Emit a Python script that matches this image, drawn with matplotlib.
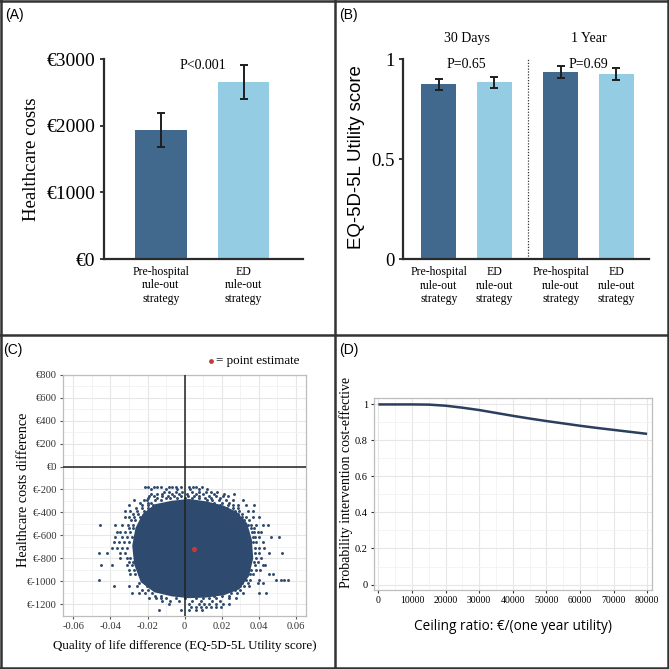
import matplotlib
matplotlib.use("Agg")
import matplotlib.pyplot as plt
from matplotlib.lines import Line2D
from matplotlib.ticker import MultipleLocator

SERIF = ["Liberation Serif", "DejaVu Serif"]
SANS = ["Liberation Sans", "DejaVu Sans"]
plt.rcParams['font.family'] = SERIF

# ---------------- data ----------------
# Panel A
a_categories = ["Pre-hospital\nrule-out\nstrategy", "ED\nrule-out\nstrategy"]
a_costs = [1935, 2655]
a_err = [250, 252]
a_pval = "P<0.001"
a_yticks = [0, 1000, 2000, 3000]

# Panel B
b_categories = ["Pre-hospital\nrule-out\nstrategy", "ED\nrule-out\nstrategy",
                "Pre-hospital\nrule-out\nstrategy", "ED\nrule-out\nstrategy"]
b_positions = [0, 1, 2.2, 3.2]
b_utility = [0.874, 0.883, 0.935, 0.925]
b_err = [0.028, 0.027, 0.029, 0.029]
b_groups = ["30 Days", "1 Year"]
b_pvals = ["P=0.65", "P=0.69"]
b_yticks = [0, 0.5, 1]
b_yticklabels = ["0", "0.5", "1"]

# Panel C: bootstrap cloud (dense core outline + scattered points read row by row)
c_core_x = [-0.0157, -0.0067, 0.0023, 0.0113, 0.0204, 0.0276, 0.0330, 0.0355, 0.0362,
            0.0340, 0.0290, 0.0210, 0.0113, 0.0023, -0.0067, -0.0160, -0.0230, -0.0265,
            -0.0275, -0.0258, -0.0220]
c_core_y = [-340, -310, -295, -315, -350, -405, -500, -640, -800,
            -950, -1060, -1110, -1130, -1135, -1120, -1085, -1000, -850,
            -690, -540, -420]
c_pts = [
    (-180, [-0.0214, -0.0196, -0.0166, -0.0148, -0.0130, -0.0085, -0.0067, -0.0045, -0.0022, 0.0023, 0.0045, 0.0063, 0.0092]),
    (-200, [-0.0180, -0.0100, -0.0040, 0.0030, 0.0080, 0.0120]),
    (-218, [-0.0112, -0.0085, -0.0049, -0.0013, 0.0041, 0.0077, 0.0114, 0.0141, 0.0177]),
    (-238, [-0.0180, -0.0150, -0.0120, -0.0070, -0.0030, 0.0010, 0.0060, 0.0100, 0.0160, 0.0213, 0.0267]),
    (-255, [-0.0193, -0.0166, -0.0120, -0.0090, -0.0060, -0.0020, 0.0020, 0.0050, 0.0077, 0.0132, 0.0168, 0.0204, 0.0231]),
    (-275, [-0.0200, -0.0150, -0.0100, -0.0080, -0.0040, 0.0000, 0.0040, 0.0080, 0.0110, 0.0140, 0.0190]),
    (-290, [-0.0274, -0.0220, -0.0202, -0.0160, -0.0130, 0.0120, 0.0150, 0.0186, 0.0222, 0.0258, 0.0312]),
    (-315, [-0.0240, -0.0200, -0.0180, 0.0160, 0.0200, 0.0240]),
    (-335, [-0.0301, -0.0229, -0.0200, -0.0170, 0.0190, 0.0231, 0.0260, 0.0285, 0.0330, 0.0375]),
    (-365, [-0.0260, -0.0230, -0.0200, 0.0230, 0.0260, 0.0290]),
    (-390, [-0.0323, -0.0292, -0.0256, -0.0220, 0.0270, 0.0294, 0.0339, 0.0366]),
    (-415, [-0.0280, -0.0250, 0.0290, 0.0310]),
    (-440, [-0.0323, -0.0301, -0.0274, -0.0240, 0.0310, 0.0330, 0.0366, 0.0402]),
    (-470, [-0.0290, -0.0265, 0.0320, 0.0345]),
    (-510, [-0.0454, -0.0377, -0.0337, -0.0305, -0.0280, 0.0340, 0.0360, 0.0384, 0.0420, 0.0447]),
    (-540, [-0.0300, -0.0280, 0.0360, 0.0375]),
    (-570, [-0.0364, -0.0346, -0.0319, -0.0292, 0.0365, 0.0375, 0.0393, 0.0411]),
    (-615, [-0.0373, -0.0337, -0.0310, -0.0285, 0.0370, 0.0380, 0.0402, 0.0465, 0.0510]),
    (-660, [-0.0382, -0.0355, -0.0328, -0.0301, 0.0370, 0.0384, 0.0420]),
    (-710, [-0.0391, -0.0364, -0.0337, -0.0310, 0.0380, 0.0402, 0.0429]),
    (-750, [-0.0463, -0.0418, -0.0346, -0.0319, 0.0380, 0.0400, 0.0456, 0.0524]),
    (-800, [-0.0346, -0.0310, -0.0292, 0.0384, 0.0411]),
    (-830, [-0.0300, -0.0280, 0.0375, 0.0395]),
    (-860, [-0.0449, -0.0391, -0.0310, -0.0283, 0.0380, 0.0420, 0.0434]),
    (-905, [-0.0301, -0.0274, -0.0250, 0.0360, 0.0384, 0.0405]),
    (-940, [-0.0292, -0.0265, -0.0247, 0.0350, 0.0370, 0.0456, 0.0477]),
    (-985, [-0.0463, -0.0229, -0.0210, 0.0330, 0.0350, 0.0402, 0.0492, 0.0519, 0.0537, 0.0555]),
    (-1015, [-0.0247, -0.0211, 0.0310, 0.0340, 0.0393, 0.0420]),
    (-1045, [-0.0382, -0.0301, -0.0256, -0.0202, 0.0300, 0.0320, 0.0348]),
    (-1075, [-0.0230, -0.0200, 0.0240, 0.0270, 0.0300]),
    (-1105, [-0.0283, -0.0247, -0.0211, -0.0175, 0.0250, 0.0280, 0.0312, 0.0402, 0.0438]),
    (-1130, [-0.0160, -0.0130, 0.0160, 0.0200, 0.0240]),
    (-1150, [-0.0193, -0.0157, -0.0130, -0.0103, -0.0049, 0.0000, 0.0059, 0.0100, 0.0132, 0.0168, 0.0240, 0.0276]),
    (-1170, [-0.0120, -0.0080, -0.0030, 0.0040, 0.0090, 0.0150, 0.0190]),
    (-1195, [-0.0085, 0.0023, 0.0077, 0.0105, 0.0132, 0.0168, 0.0204, 0.0240]),
    (-1225, [0.0032, 0.0059, 0.0086, 0.0114, 0.0141, 0.0168, 0.0195]),
    (-1250, [-0.0139, -0.0022, 0.0023, 0.0059, 0.0095]),
]
c_point_estimate = (0.005, -718)
c_xticks = [-0.06, -0.04, -0.02, 0, 0.02, 0.04, 0.06]
c_xticklabels = ["-0.06", "-0.04", "-0.02", "0", "0.02", "0.04", "0.06"]
c_yticks = [800, 600, 400, 200, 0, -200, -400, -600, -800, -1000, -1200]

# Panel D: cost-effectiveness acceptability curve
d_ceiling = [0, 5000, 10000, 15000, 20000, 25000, 30000, 35000, 40000,
             45000, 50000, 55000, 60000, 65000, 70000, 75000, 80000]
d_prob = [0.998, 0.998, 0.998, 0.997, 0.991, 0.980, 0.967, 0.951, 0.935,
          0.920, 0.906, 0.893, 0.880, 0.868, 0.857, 0.846, 0.835]
d_xticks = [0, 10000, 20000, 30000, 40000, 50000, 60000, 70000, 80000]
d_yticks = [0, 0.2, 0.4, 0.6, 0.8, 1]
d_yticklabels = ["0", "0.2", "0.4", "0.6", "0.8", "1"]

# ---------------- style ----------------
DARK = "#41698e"
LIGHT = "#94cde3"
NAVY = "#2f4a6f"
RED = "#c23b3b"
AXC = "#2a2a2a"
W = 669

fig = plt.figure(figsize=(6.69, 6.69), dpi=100)


def box(l, r, t, b):
    return [l / W, 1 - b / W, (r - l) / W, (b - t) / W]


# ---------------- Panel A ----------------
axA = fig.add_axes(box(104, 303, 59, 259))
axA.bar([0, 1], a_costs, width=0.625, color=[DARK, LIGHT])
axA.errorbar([0, 1], a_costs, yerr=a_err, fmt="none", ecolor="#1e1e1e",
             elinewidth=1.4, capsize=2.6, capthick=1.4)
axA.set_xlim(-0.69, 1.72)
axA.set_ylim(0, 3000)
axA.set_yticks(a_yticks)
axA.set_yticklabels([f"€{v}" for v in a_yticks], fontsize=14)
axA.set_xticks([0, 1])
axA.set_xticklabels(a_categories, fontsize=8.5, linespacing=1.15)
axA.tick_params(axis="x", length=0, pad=5)
axA.tick_params(axis="y", length=3, width=1.3, color=AXC, pad=3)
for s in ["top", "right"]:
    axA.spines[s].set_visible(False)
for s in ["left", "bottom"]:
    axA.spines[s].set_linewidth(1.6)
    axA.spines[s].set_color(AXC)
axA.text(0.51, 2905, a_pval, ha="center", va="center", fontsize=10)
axA.set_ylabel("Healthcare costs", fontsize=13.5, va="center")
axA.yaxis.set_label_coords(-0.363, 0.5)

# ---------------- Panel B ----------------
axB = fig.add_axes(box(403.3, 649, 59, 259.3))
axB.bar(b_positions, b_utility, width=0.63, color=[DARK, LIGHT, DARK, LIGHT])
axB.errorbar(b_positions, b_utility, yerr=b_err, fmt="none", ecolor="#1e1e1e",
             elinewidth=1.4, capsize=2.6, capthick=1.4)
axB.set_xlim(-0.64, 3.79)
axB.set_ylim(0, 1)
axB.set_yticks(b_yticks)
axB.set_yticklabels(b_yticklabels, fontsize=13.5)
axB.set_xticks(b_positions)
axB.set_xticklabels(b_categories, fontsize=8.5, linespacing=1.15)
axB.tick_params(axis="x", length=0, pad=5)
axB.tick_params(axis="y", length=3, width=1.3, color=AXC, pad=3)
for s in ["top", "right"]:
    axB.spines[s].set_visible(False)
for s in ["left", "bottom"]:
    axB.spines[s].set_linewidth(1.6)
    axB.spines[s].set_color(AXC)
axB.axvline(1.6, ymin=0, ymax=1, color="#333333", lw=0.9, ls=(0, (1, 1.3)))
axB.text(0.5, 1.1, b_groups[0], ha="center", va="center", fontsize=10, clip_on=False)
axB.text(2.7, 1.1, b_groups[1], ha="center", va="center", fontsize=10, clip_on=False)
axB.text(0.5, 0.975, b_pvals[0], ha="center", va="center", fontsize=10)
axB.text(2.7, 0.975, b_pvals[1], ha="center", va="center", fontsize=10)
axB.set_ylabel("EQ-5D-5L Utility score", fontsize=13.4, family=SANS, va="center")
axB.yaxis.set_label_coords(-0.19, 0.51)

# ---------------- Panel C ----------------
axC = fig.add_axes(box(63.3, 306, 374.7, 615.7))
axC.set_xlim(-0.0654, 0.0654)
axC.set_ylim(-1300, 800)
axC.xaxis.set_minor_locator(MultipleLocator(0.01))
axC.yaxis.set_minor_locator(MultipleLocator(100))
axC.grid(True, which="major", color="#e6e6e6", lw=0.8)
axC.grid(True, which="minor", color="#f1f1f1", lw=0.6)
axC.set_axisbelow(True)
axC.fill(c_core_x, c_core_y, color=NAVY, lw=2.0, ec=NAVY, zorder=2)
px, py = [], []
for yv, xs in c_pts:
    for xv in xs:
        px.append(xv)
        py.append(yv)
axC.scatter(px, py, s=4.5, color=NAVY, lw=0, zorder=2)
axC.axhline(0, color="#222222", lw=1.1, zorder=3)
axC.axvline(0, color="#222222", lw=1.1, zorder=3)
axC.scatter([c_point_estimate[0]], [c_point_estimate[1]], s=14, color=RED, lw=0, zorder=4)
axC.set_xticks(c_xticks)
axC.set_xticklabels(c_xticklabels, fontsize=7.6, color="#333333")
axC.set_yticks(c_yticks)
axC.set_yticklabels([f"€{v}" for v in c_yticks], fontsize=7.6, color="#333333")
axC.tick_params(which="major", length=2.5, width=0.8, color="#555555", pad=2)
axC.tick_params(which="minor", length=0)
for s in axC.spines.values():
    s.set_color("#bdbdbd")
    s.set_linewidth(0.9)
axC.set_xlabel("Quality of life difference (EQ-5D-5L Utility score)", fontsize=9.4, va="center")
axC.xaxis.set_label_coords(0.5, -0.124)
axC.set_ylabel("Healthcare costs difference", fontsize=10.3, va="center")
axC.yaxis.set_label_coords(-0.162, 0.523)
axC.scatter([0.607], [1.058], s=12, color=RED, lw=0, transform=axC.transAxes, clip_on=False)
axC.text(0.628, 1.058, "= point estimate", transform=axC.transAxes, fontsize=9.4,
         ha="left", va="center")

# ---------------- Panel D ----------------
axD = fig.add_axes(box(374, 652.3, 398.3, 590))
axD.set_xlim(-1300, 81550)
axD.set_ylim(-0.03, 1.032)
axD.xaxis.set_minor_locator(MultipleLocator(5000))
axD.yaxis.set_minor_locator(MultipleLocator(0.1))
axD.grid(True, which="major", color="#e6e6e6", lw=0.8)
axD.grid(True, which="minor", color="#f2f2f2", lw=0.6)
axD.set_axisbelow(True)
axD.plot(d_ceiling, d_prob, color="#2b3e5e", lw=1.8, solid_capstyle="butt")
axD.set_xticks(d_xticks)
axD.set_xticklabels([str(v) for v in d_xticks], fontsize=7)
axD.set_yticks(d_yticks)
axD.set_yticklabels(d_yticklabels, fontsize=7.4)
axD.tick_params(which="major", length=2.5, width=0.8, color="#333333", pad=2)
axD.tick_params(which="minor", length=0)
for s in axD.spines.values():
    s.set_color("#bdbdbd")
    s.set_linewidth(0.9)
axD.set_xlabel("Ceiling ratio: €/(one year utility)", fontsize=9.8,
               family=["Open Sans", "DejaVu Sans"], va="center")
axD.xaxis.set_label_coords(0.498, -0.191)
axD.set_ylabel("Probability intervention cost-effective", fontsize=10, va="center")
axD.yaxis.set_label_coords(-0.102, 0.562)

# ---------------- panel labels and frames ----------------
for lab, x, y in [("(A)", 5, 15), ("(B)", 339, 15), ("(C)", 3.5, 350), ("(D)", 339, 350)]:
    fig.text(x / W, 1 - y / W, lab, fontsize=10, family=SANS, ha="left", va="center")

FR = "#333333"
for xv in [1.2, 334.5, 667.8]:
    fig.add_artist(Line2D([xv / W, xv / W], [0, 1], color=FR, lw=1.8, transform=fig.transFigure))
for yv in [1.2, 334.5, 667.8]:
    fig.add_artist(Line2D([0, 1], [1 - yv / W, 1 - yv / W], color=FR, lw=1.8, transform=fig.transFigure))

fig.savefig("out.png", dpi=100)
